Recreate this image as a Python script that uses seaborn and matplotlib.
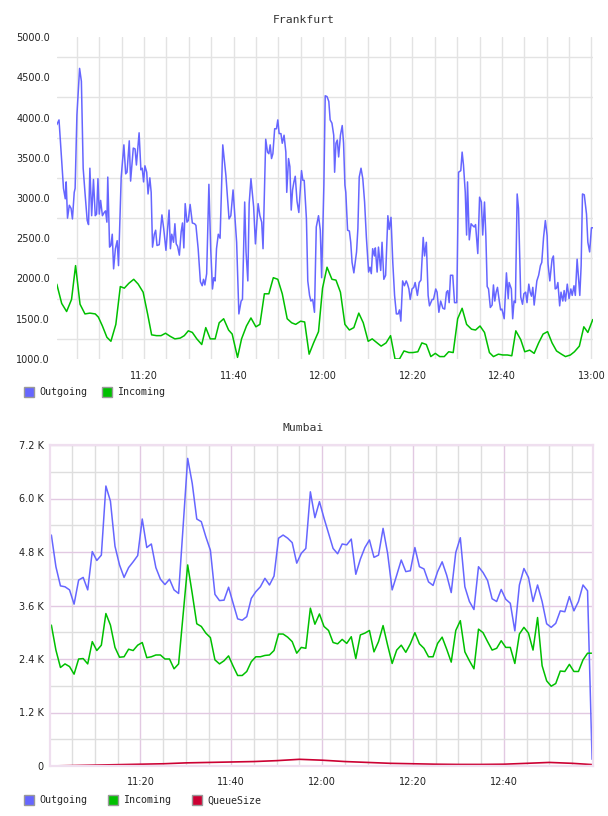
"""
Two traffic panels (Frankfurt / Mumbai), 11:00 - 13:00.
Output: out.png
"""

import numpy as np
import matplotlib
matplotlib.use('Agg')
import matplotlib.pyplot as plt
from matplotlib.lines import Line2D
from matplotlib.ticker import FixedLocator, MultipleLocator, FuncFormatter
import seaborn as sns

# ---- Frankfurt: minutes after 11:00 and values ----
fr_out_min = [
    0.5, 1.0, 2.0, 2.4, 2.6, 2.9, 3.3, 3.7, 4.0, 4.4,
    4.6, 5.0, 5.6, 6.0, 6.4, 6.8, 7.3, 7.6, 7.9, 8.3,
    8.7, 9.1, 9.4, 9.7, 10.0, 10.3, 10.7, 11.1, 11.4, 11.7,
    11.9, 12.3, 12.6, 12.9, 13.2, 13.6, 14.0, 14.3, 14.9, 15.5,
    15.9, 16.2, 16.7, 17.0, 17.6, 18.0, 18.3, 18.9, 19.3, 19.6,
    19.9, 20.2, 20.6, 20.9, 21.3, 21.6, 21.9, 22.3, 22.6, 22.9,
    23.4, 24.0, 24.4, 24.9, 25.6, 25.9, 26.2, 26.6, 26.9, 27.2,
    27.5, 27.9, 28.3, 28.6, 28.9, 29.2, 29.6, 29.9, 30.3, 30.8,
    31.3, 31.6, 32.1, 32.6, 33.0, 33.3, 33.6, 34.0, 34.5, 34.9,
    35.3, 35.6, 35.9, 36.2, 36.6, 37.0, 37.6, 38.3, 39.0, 39.4,
    39.9, 40.7, 41.2, 41.7, 42.0, 42.5, 42.8, 43.2, 43.5, 43.9,
    44.5, 44.9, 45.5, 45.9, 46.3, 46.6, 47.2, 47.6, 47.9, 48.2,
    48.5, 48.8, 49.2, 49.6, 49.9, 50.2, 50.6, 50.9, 51.3, 51.7,
    51.9, 52.3, 52.6, 52.9, 53.2, 53.5, 53.8, 54.2, 54.6, 55.2,
    55.5, 55.8, 56.3, 56.6, 57.0, 57.3, 57.7, 58.1, 58.5, 59.0,
    59.4, 59.7, 60.2, 60.5, 60.9, 61.3, 61.6, 62.0, 62.4, 62.6,
    62.9, 63.2, 63.5, 63.9, 64.3, 64.6, 64.9, 65.1, 65.5, 65.9,
    66.2, 66.5, 66.9, 67.5, 67.8, 68.1, 68.5, 68.9, 69.3, 69.7,
    70.2, 70.5, 70.8, 71.1, 71.5, 71.7, 72.1, 72.4, 72.9, 73.2,
    73.6, 74.0, 74.5, 74.8, 75.2, 75.6, 76.0, 76.4, 76.8, 77.1,
    77.4, 77.8, 78.2, 78.6, 78.9, 79.2, 79.5, 79.9, 80.3, 80.6,
    81.1, 81.5, 81.9, 82.4, 82.7, 83.1, 83.5, 83.8, 84.4, 84.7,
    85.2, 85.5, 85.9, 86.3, 86.8, 87.2, 87.6, 87.9, 88.2, 88.5,
    89.0, 89.4, 89.9, 90.3, 90.8, 91.1, 91.4, 91.8, 92.1, 92.3,
    92.7, 93.1, 93.4, 93.8, 94.1, 94.6, 95.0, 95.4, 95.7, 96.1,
    96.4, 96.7, 97.0, 97.4, 97.8, 98.1, 98.4, 98.7, 99.0, 99.4,
    99.7, 100.0, 100.5, 100.8, 101.0, 101.4, 101.6, 102.1, 102.4, 102.7,
    103.0, 103.4, 103.7, 104.2, 104.6, 104.9, 105.3, 105.6, 106.0, 106.3,
    106.6, 106.9, 107.2, 107.8, 108.2, 108.6, 108.9, 109.3, 109.7, 110.1,
    110.3, 110.7, 111.2, 111.5, 111.9, 112.2, 112.5, 112.9, 113.2, 113.6,
    113.9, 114.2, 114.6, 115.0, 115.4, 115.7, 116.1, 116.4, 116.8, 117.4,
    117.7, 118.0, 118.4, 118.9, 119.2, 119.6, 120.0, 120.5,
]
fr_out_val = [
    3910, 3970, 3120, 2990, 3200, 2750, 2910, 2870, 2740, 3070,
    3120, 4030, 4610, 4450, 3370, 3070, 2720, 2670, 3370, 2780,
    3230, 2780, 2800, 3240, 2800, 2970, 2780, 2820, 2840, 2700,
    3260, 2390, 2410, 2550, 2120, 2370, 2470, 2160, 3260, 3660,
    3300, 3320, 3710, 3210, 3620, 3610, 3410, 3810, 3350, 3370,
    3200, 3400, 3320, 3050, 3250, 3070, 2390, 2550, 2600, 2410,
    2420, 2790, 2620, 2350, 2850, 2370, 2550, 2450, 2680, 2430,
    2400, 2290, 2580, 2690, 2380, 2930, 2700, 2720, 2920, 2690,
    2680, 2660, 2370, 1960, 1910, 1990, 1920, 2060, 3170, 2370,
    1870, 2010, 1970, 2370, 2550, 2500, 3660, 3280, 2740, 2780,
    3100, 2450, 1560, 1720, 1740, 2950, 2330, 1970, 2930, 3240,
    2890, 2430, 2930, 2780, 2700, 2370, 3730, 3570, 3550, 3660,
    3490, 3550, 3860, 3860, 3970, 3800, 3800, 3680, 3780, 3570,
    3070, 3490, 3390, 2850, 3100, 3200, 3270, 2960, 2820, 3340,
    3220, 3220, 2740, 1970, 1790, 1720, 1740, 1580, 2640, 2780,
    2600, 2010, 3160, 4270, 4260, 4200, 3970, 3930, 3780, 3320,
    3680, 3720, 3510, 3780, 3900, 3680, 3160, 3070, 2600, 2590,
    2450, 2200, 2070, 2330, 2620, 3260, 3370, 3240, 2950, 2510,
    2080, 2140, 2060, 2370, 2280, 2380, 2080, 2390, 2100, 2450,
    1990, 2040, 2780, 2610, 2760, 2200, 1790, 1560, 1560, 1610,
    1470, 1970, 1910, 1970, 1930, 1870, 1740, 1870, 1890, 1950,
    1790, 1950, 1980, 2510, 2280, 2450, 1790, 1660, 1740, 1740,
    1870, 1830, 1580, 1720, 1630, 1620, 1830, 1850, 1700, 2040,
    2040, 1700, 1700, 3320, 3340, 3570, 3410, 3070, 2540, 3200,
    2480, 2680, 2660, 2640, 2670, 2310, 3010, 2950, 2540, 2950,
    2530, 1900, 1870, 1640, 1670, 1920, 1720, 1830, 1890, 1720,
    1610, 1620, 1500, 1830, 2070, 1750, 1950, 1870, 1500, 1720,
    1700, 3050, 2870, 1770, 1680, 1810, 1830, 1700, 1930, 1830,
    1780, 1890, 1670, 1970, 2040, 2160, 2200, 2510, 2720, 2530,
    2180, 1970, 2240, 2280, 1870, 1880, 1950, 1660, 1830, 1720,
    1850, 1720, 1930, 1750, 1870, 1790, 1910, 1790, 2240, 1790,
    2160, 3050, 3040, 2800, 2450, 2330, 2630, 2630,
]
fr_in_min = [
    0.5, 1.6, 2.7, 3.8, 4.7, 5.7, 6.8, 7.9, 9.1, 9.8,
    10.7, 11.7, 12.6, 13.7, 14.7, 15.6, 16.6, 17.7, 18.7, 19.8,
    20.8, 21.7, 22.8, 23.8, 24.8, 25.9, 26.9, 28.1, 29.0, 29.9,
    30.8, 31.8, 32.9, 33.8, 34.8, 35.9, 36.8, 37.8, 38.9, 39.7,
    40.9, 41.8, 42.9, 43.9, 45.0, 45.9, 46.9, 47.9, 48.9, 49.9,
    50.9, 52.0, 53.0, 53.9, 55.0, 55.9, 56.9, 57.9, 59.0, 59.9,
    60.9, 62.0, 62.9, 63.9, 64.9, 65.9, 66.9, 68.0, 69.0, 70.1,
    71.0, 72.1, 73.0, 74.1, 75.1, 76.1, 77.1, 78.1, 79.2, 80.1,
    81.2, 82.1, 83.1, 84.1, 85.1, 86.1, 87.1, 88.1, 89.1, 90.1,
    91.1, 92.1, 93.2, 94.1, 95.1, 96.1, 97.2, 98.1, 99.2, 100.2,
    101.2, 102.2, 103.1, 104.2, 105.1, 106.2, 107.2, 108.2, 109.2, 110.2,
    111.2, 112.2, 113.3, 114.2, 115.3, 116.2, 117.3, 118.3, 119.2, 120.3,
]
fr_in_val = [
    1930, 1690, 1590, 1740, 2160, 1680, 1560, 1570, 1560, 1520,
    1410, 1270, 1220, 1430, 1900, 1880, 1940, 1990, 1930, 1830,
    1560, 1300, 1290, 1290, 1320, 1280, 1250, 1260, 1290, 1350,
    1330, 1250, 1180, 1390, 1250, 1250, 1450, 1500, 1360, 1310,
    1020, 1250, 1410, 1510, 1400, 1430, 1810, 1810, 2010, 1990,
    1810, 1500, 1450, 1430, 1470, 1460, 1060, 1200, 1340, 1880,
    2140, 1990, 1980, 1830, 1430, 1360, 1390, 1570, 1450, 1220,
    1250, 1200, 1160, 1200, 1290, 1000, 1000, 1100, 1080, 1080,
    1090, 1200, 1180, 1030, 1070, 1030, 1030, 1090, 1080, 1500,
    1630, 1430, 1370, 1360, 1410, 1330, 1080, 1030, 1060, 1050,
    1050, 1040, 1350, 1240, 1090, 1110, 1070, 1200, 1310, 1340,
    1200, 1100, 1060, 1030, 1050, 1090, 1160, 1400, 1330, 1490,
]

# ---- Mumbai: one sample a minute from 11:00:24, values in K ----
mumbai_min = np.arange(120) + 0.4
mumbai_out_k = [
    5.18, 4.47, 4.04, 4.02, 3.95, 3.63, 4.17, 4.23, 3.95, 4.81,
    4.61, 4.73, 6.28, 5.94, 4.93, 4.51, 4.23, 4.45, 4.58, 4.72,
    5.54, 4.90, 4.98, 4.45, 4.19, 4.07, 4.19, 3.95, 3.87, 5.38,
    6.90, 6.34, 5.54, 5.48, 5.14, 4.84, 3.85, 3.71, 3.72, 4.01,
    3.65, 3.30, 3.27, 3.35, 3.76, 3.91, 4.02, 4.21, 4.06, 4.26,
    5.11, 5.18, 5.11, 5.01, 4.55, 4.77, 4.88, 6.15, 5.57, 5.93,
    5.56, 5.22, 4.88, 4.76, 4.98, 4.96, 5.09, 4.30, 4.64, 4.90,
    5.07, 4.68, 4.73, 5.33, 4.77, 3.95, 4.28, 4.62, 4.36, 4.38,
    4.90, 4.47, 4.42, 4.13, 4.05, 4.36, 4.58, 4.28, 3.89, 4.79,
    5.12, 4.02, 3.69, 3.51, 4.47, 4.34, 4.16, 3.75, 3.69, 3.96,
    3.74, 3.65, 3.03, 4.06, 4.43, 4.23, 3.69, 4.06, 3.69, 3.19,
    3.11, 3.20, 3.48, 3.46, 3.80, 3.48, 3.69, 4.06, 3.93, 0.15,
]
mumbai_in_k = [
    3.16, 2.60, 2.21, 2.29, 2.23, 2.06, 2.40, 2.41, 2.29, 2.79,
    2.59, 2.71, 3.42, 3.16, 2.66, 2.44, 2.45, 2.62, 2.59, 2.71,
    2.77, 2.43, 2.45, 2.49, 2.49, 2.40, 2.40, 2.18, 2.29, 3.40,
    4.51, 3.87, 3.19, 3.13, 2.98, 2.88, 2.38, 2.29, 2.36, 2.47,
    2.24, 2.03, 2.03, 2.12, 2.34, 2.45, 2.45, 2.48, 2.49, 2.59,
    2.96, 2.96, 2.89, 2.79, 2.53, 2.66, 2.64, 3.54, 3.18, 3.41,
    3.13, 3.04, 2.77, 2.74, 2.84, 2.75, 2.90, 2.41, 2.94, 2.98,
    3.04, 2.56, 2.79, 3.15, 2.71, 2.30, 2.60, 2.71, 2.55, 2.74,
    2.99, 2.74, 2.64, 2.45, 2.45, 2.75, 2.89, 2.62, 2.33, 3.04,
    3.26, 2.56, 2.36, 2.18, 3.07, 2.99, 2.79, 2.60, 2.64, 2.81,
    2.66, 2.66, 2.30, 2.96, 3.11, 2.98, 2.60, 3.33, 2.25, 1.91,
    1.79, 1.85, 2.13, 2.12, 2.28, 2.12, 2.12, 2.38, 2.53, 2.53,
]
queue_min = [0, 5, 10, 15, 20, 25, 30, 35, 40, 45, 50, 55, 60,
             65, 70, 75, 80, 85, 90, 95, 100, 105, 110, 115, 119.6]
queue_k = [0.00, 0.01, 0.02, 0.03, 0.04, 0.05, 0.07, 0.08, 0.09, 0.10, 0.12, 0.15, 0.13,
           0.10, 0.08, 0.06, 0.05, 0.04, 0.035, 0.035, 0.04, 0.06, 0.08, 0.06, 0.03]

OUT_C = '#6666ff'
IN_C = '#00c000'
Q_C = '#cc0033'

sns.set_style('white')
plt.rcParams['font.family'] = ['DejaVu Sans']

fig = plt.figure(figsize=(6.08, 8.16), dpi=100)
ax1 = fig.add_axes([57 / 608, 1 - 359 / 816, 536 / 608, 322 / 816])
ax2 = fig.add_axes([50 / 608, 1 - 766 / 816, 543 / 608, 321 / 816])


def hhmm(m, pos=None):
    m = int(round(m))
    return f'{11 + m // 60}:{m % 60:02d}'


# --- Frankfurt ---
sns.lineplot(x=fr_out_min, y=fr_out_val, ax=ax1, color=OUT_C, lw=1.1,
             estimator=None, sort=False)
sns.lineplot(x=fr_in_min, y=fr_in_val, ax=ax1, color=IN_C, lw=1.1,
             estimator=None, sort=False)
ax1.set_xlim(0.55, 120.35)
ax1.set_ylim(1000, 5000)
ax1.xaxis.set_major_locator(FixedLocator([20, 40, 60, 80, 100, 120]))
ax1.xaxis.set_minor_locator(MultipleLocator(5))
ax1.xaxis.set_major_formatter(FuncFormatter(hhmm))
ax1.yaxis.set_major_locator(FixedLocator(np.arange(1000, 5001, 500)))
ax1.yaxis.set_minor_locator(FixedLocator(np.arange(1250, 5000, 500)))
ax1.yaxis.set_major_formatter(FuncFormatter(lambda v, p: f'{v:.1f}'))
ax1.grid(True, which='both', axis='x', color='#e3e3e3', lw=1)
ax1.grid(True, which='minor', axis='y', color='#e3e3e3', lw=1)
ax1.grid(False, which='major', axis='y')
ax1.set_axisbelow(True)
for s in ax1.spines.values():
    s.set_visible(False)
ax1.tick_params(which='both', length=0, labelsize=7, colors='#222222')
ax1.tick_params(axis='y', pad=5)
ax1.tick_params(axis='x', pad=8.5)
ax1.set_xlabel('')
ax1.set_ylabel('')

# --- Mumbai ---
sns.lineplot(x=mumbai_min, y=mumbai_out_k, ax=ax2, color=OUT_C, lw=1.1,
             estimator=None, sort=False)
sns.lineplot(x=mumbai_min, y=mumbai_in_k, ax=ax2, color=IN_C, lw=1.1,
             estimator=None, sort=False)
sns.lineplot(x=queue_min, y=queue_k, ax=ax2, color=Q_C, lw=1.2,
             estimator=None, sort=False)
ax2.set_xlim(0.1, 119.6)
ax2.set_ylim(0, 7.2)
ax2.xaxis.set_major_locator(FixedLocator([20, 40, 60, 80, 100]))
ax2.xaxis.set_minor_locator(MultipleLocator(5))
ax2.xaxis.set_major_formatter(FuncFormatter(hhmm))
ax2.yaxis.set_major_locator(FixedLocator(np.arange(0, 7.3, 1.2)))
ax2.yaxis.set_minor_locator(FixedLocator(np.arange(0.6, 7.2, 1.2)))
ax2.yaxis.set_major_formatter(
    FuncFormatter(lambda v, p: '0' if abs(v) < 1e-9 else f'{v:.1f} K'))
ax2.grid(True, which='major', color='#e2c9e2', lw=1)
ax2.grid(True, which='minor', color='#dedede', lw=1)
ax2.set_axisbelow(True)
for s in ax2.spines.values():
    s.set_color('#efdfef')
    s.set_linewidth(1.6)
ax2.tick_params(which='both', length=0, labelsize=7, colors='#222222')
ax2.tick_params(axis='y', pad=4.5)
ax2.tick_params(axis='x', pad=8)
ax2.set_xlabel('')
ax2.set_ylabel('')

# titles
title_kw = dict(ha='center', va='center', family='DejaVu Sans Mono',
                size=8.2, color='#333333')
fig.text(304 / 608, 1 - 20 / 816, 'Frankfurt', **title_kw)
fig.text(303 / 608, 1 - 428 / 816, 'Mumbai', **title_kw)


def square(c):
    return Line2D([], [], ls='none', marker='s', markersize=7.2,
                  markerfacecolor=c, markeredgecolor='#999999', markeredgewidth=1)


leg_kw = dict(loc='center left', frameon=False, borderpad=0, borderaxespad=0,
              handlelength=1.2, handletextpad=0.42,
              prop={'family': 'DejaVu Sans Mono', 'size': 7.2})
fig.legend([square(OUT_C), square(IN_C)], ['Outgoing', 'Incoming'],
           bbox_to_anchor=(22.8 / 608, 1 - 392.3 / 816), ncol=2,
           columnspacing=1.41, **leg_kw)
fig.legend([square(OUT_C), square(IN_C), square(Q_C)],
           ['Outgoing', 'Incoming', 'QueueSize'],
           bbox_to_anchor=(22.8 / 608, 1 - 800.3 / 816), ncol=3,
           columnspacing=2.0, **leg_kw)

plt.savefig('out.png', dpi=100)
